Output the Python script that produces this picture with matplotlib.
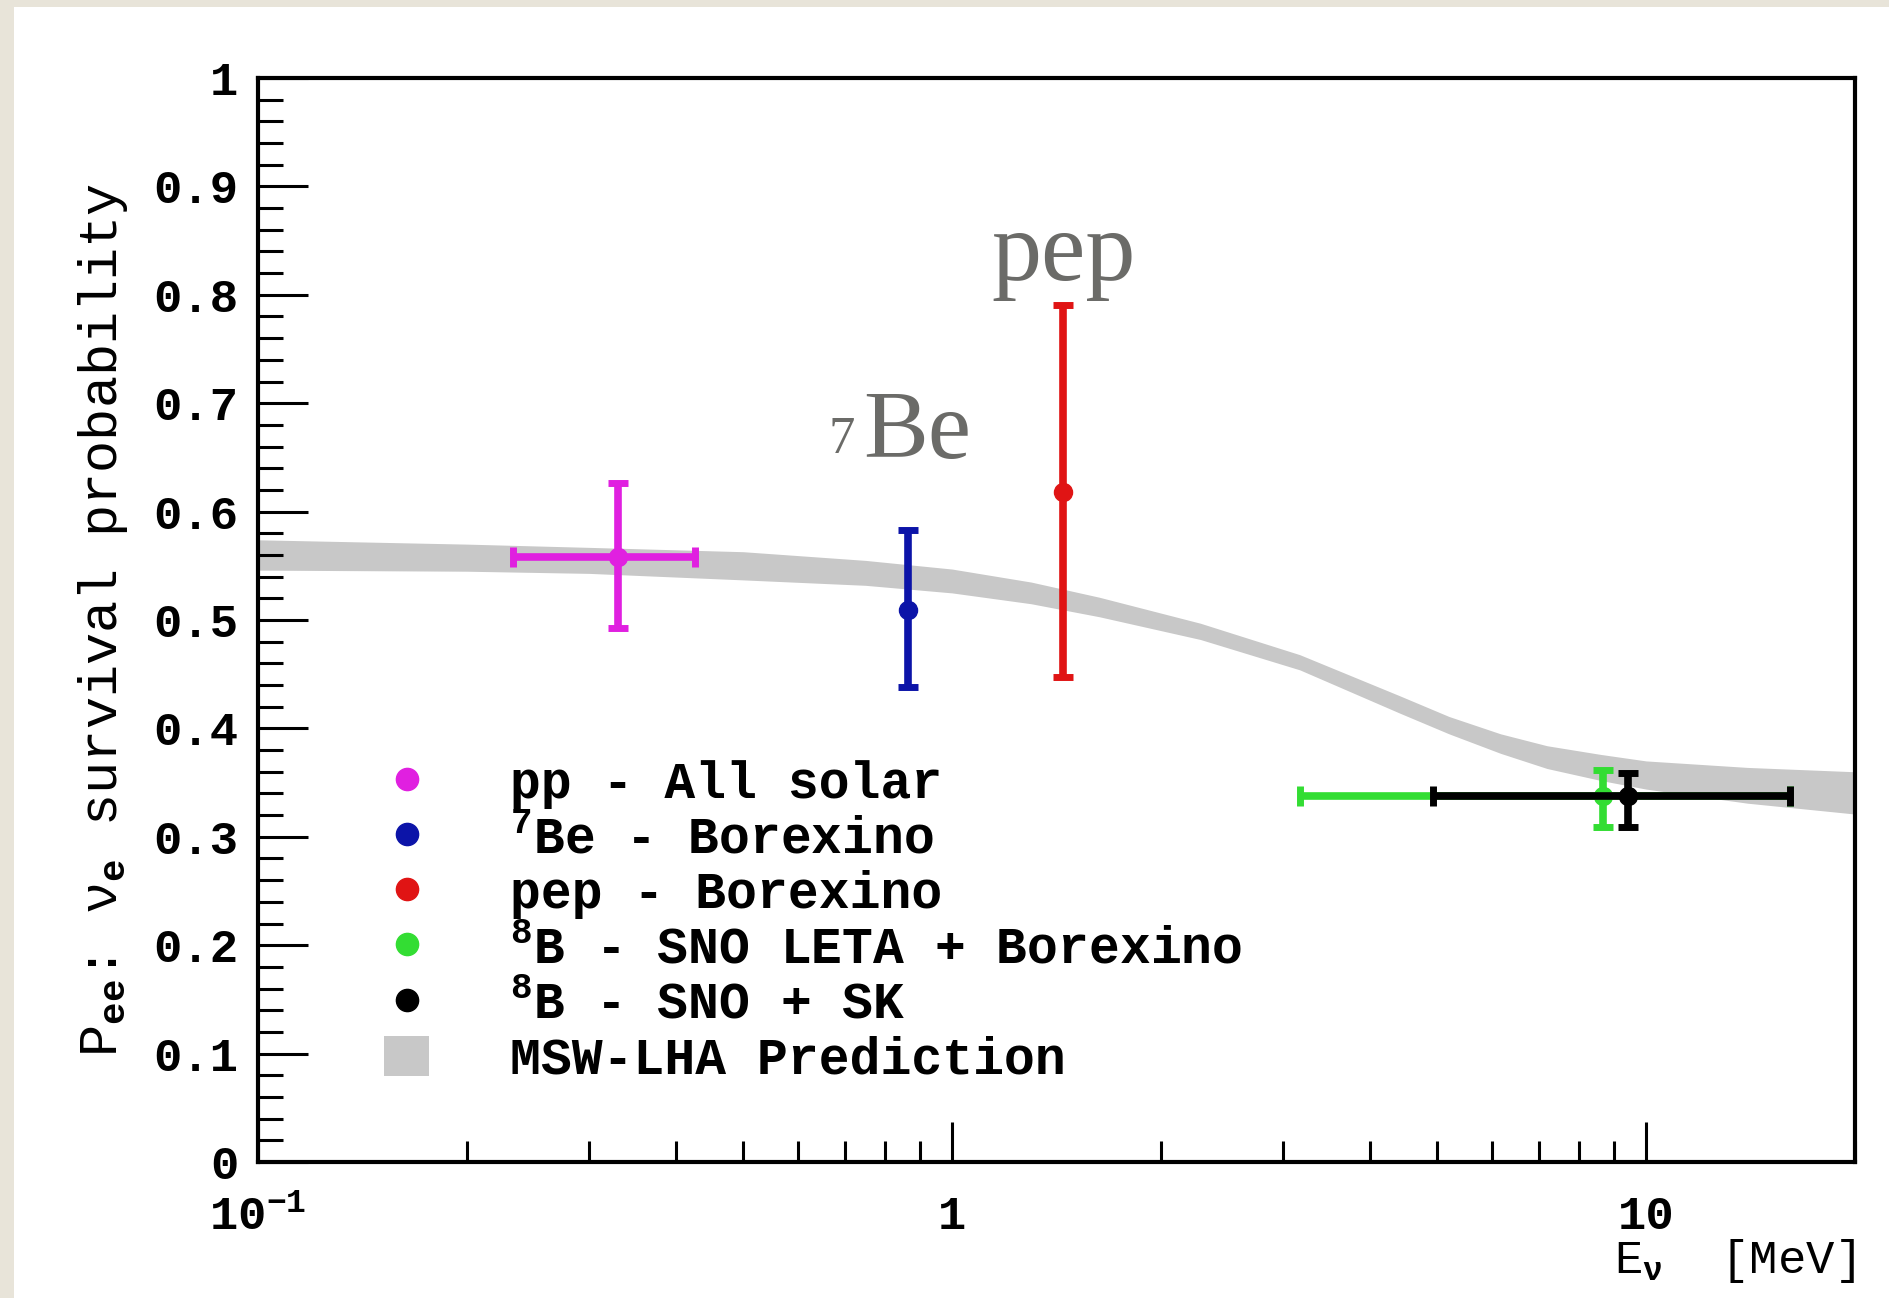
import numpy as np
import matplotlib
matplotlib.use('Agg')
import matplotlib.pyplot as plt
from matplotlib.lines import Line2D
from matplotlib.patches import Patch, Rectangle
from matplotlib.ticker import FixedLocator, MultipleLocator, LogLocator, NullFormatter

plt.rcParams['font.family'] = ['Liberation Mono', 'DejaVu Sans']
plt.rcParams['font.weight'] = 'bold'
plt.rcParams['mathtext.fontset'] = 'custom'
plt.rcParams['mathtext.rm'] = 'Liberation Mono:bold'
plt.rcParams['mathtext.it'] = 'Liberation Mono:bold'
plt.rcParams['mathtext.bf'] = 'Liberation Mono:bold'

# MSW-LHA prediction band (energy in MeV, lower / upper Pee)
band_e = [0.1, 0.2, 0.3, 0.5, 0.75, 1.0, 1.3, 1.63, 2.28, 3.17, 4.42, 5.2, 6.17, 7.2, 8.6, 10.0, 14.0, 20.0]
band_lo = [0.546, 0.545, 0.543, 0.537, 0.532, 0.525, 0.515, 0.503, 0.482, 0.454, 0.414, 0.395, 0.377, 0.363, 0.352, 0.344, 0.331, 0.321]
band_hi = [0.574, 0.570, 0.567, 0.563, 0.555, 0.547, 0.535, 0.521, 0.497, 0.468, 0.430, 0.411, 0.395, 0.384, 0.376, 0.370, 0.364, 0.360]

# measurements
labels = ['pp - All solar', r'$^{7}$Be - Borexino', 'pep - Borexino',
          r'$^{8}$B - SNO LETA + Borexino', r'$^{8}$B - SNO + SK']
colors = ['#e020e0', '#0c14a8', '#e01414', '#33dd33', '#000000']
energy = [0.33, 0.865, 1.445, 8.67, 9.42]
e_lo = [0.233, 0.865, 1.445, 3.17, 4.93]
e_hi = [0.426, 0.865, 1.445, 16.1, 16.1]
pee = [0.558, 0.509, 0.618, 0.338, 0.338]
pee_lo = [0.493, 0.438, 0.447, 0.309, 0.309]
pee_hi = [0.626, 0.583, 0.791, 0.362, 0.359]

W, H = 1890, 1298
fig = plt.figure(figsize=(W / 100, H / 100), dpi=100)
fig.patch.set_facecolor('#e8e4d9')
fig.patches.append(Rectangle((14 / W, 0), 1, 1 - 7 / H, transform=fig.transFigure,
                             facecolor='white', edgecolor='none', zorder=-1))

ax = fig.add_axes([258 / W, 1 - 1162 / H, (1855 - 258) / W, (1162 - 78) / H])
ax.set_xscale('log')
ax.set_xlim(0.1, 20)
ax.set_ylim(0, 1)

ax.fill_between(band_e, band_lo, band_hi, color='#c8c8c8', lw=0, zorder=1)

for i in range(len(energy)):
    yerr = [[pee[i] - pee_lo[i]], [pee_hi[i] - pee[i]]]
    xerr = None
    if e_hi[i] != e_lo[i]:
        xerr = [[energy[i] - e_lo[i]], [e_hi[i] - energy[i]]]
    ax.errorbar([energy[i]], [pee[i]], yerr=yerr, xerr=xerr, fmt='o', color=colors[i],
                ms=13, lw=5.5, capsize=7, capthick=5, zorder=3 + i)

for s in ax.spines.values():
    s.set_linewidth(3)
ax.tick_params(top=False, right=False)
ax.yaxis.set_major_locator(MultipleLocator(0.1))
ax.yaxis.set_minor_locator(MultipleLocator(0.02))
ax.yaxis.set_major_formatter(plt.FuncFormatter(lambda v, p: '0' if v == 0 else ('1' if v == 1 else f'{v:.1f}')))
ax.tick_params(axis='y', which='major', direction='in', length=36, width=2.2, pad=14, labelsize=34)
ax.tick_params(axis='y', which='minor', direction='in', length=18, width=2.2)

ax.xaxis.set_major_locator(FixedLocator([0.1, 1, 10]))
ax.xaxis.set_minor_locator(LogLocator(base=10, subs=np.arange(2, 10)))
ax.xaxis.set_minor_formatter(NullFormatter())
ax.set_xticklabels([r'$10^{-1}$', '1', '10'])
ax.tick_params(axis='x', which='major', direction='in', length=29, width=2.2, pad=24, labelsize=34)
ax.tick_params(axis='x', which='minor', direction='in', length=15, width=2.2)

ax.set_ylabel(r'P$_{ee}$: ν$_e$ survival probability', fontsize=38.5, va='center')
ax.yaxis.set_label_coords(-0.097, 0.5)
ax.set_xlabel(r'E$_\nu$  [MeV]', fontsize=34, ha='right', va='center')
ax.xaxis.set_label_coords(1.0, -0.091)

handles = [Line2D([], [], marker='o', ls='none', color=c, ms=16) for c in colors]
handles.append(Patch(facecolor='#c8c8c8', edgecolor='none'))
ax.legend(handles, labels + ['MSW-LHA Prediction'], loc='upper left',
          bbox_to_anchor=(384 / W, 1 - 760 / H), bbox_transform=fig.transFigure,
          frameon=False, fontsize=37, handlelength=0.88, handleheight=0.83,
          handletextpad=1.57, labelspacing=0.12, borderpad=0, borderaxespad=0)

# flux labels
gray = '#6b6b68'
fig.text(991 / W, 1 - 280 / H, 'pep', family='Liberation Serif', weight='normal',
         size=72, color=gray, ha='left', va='baseline')
fig.text(863 / W, 1 - 458 / H, 'Be', family='Liberation Serif', weight='normal',
         size=70, color=gray, ha='left', va='baseline')
fig.text(855 / W, 1 - 453 / H, '7', family='Liberation Serif', weight='normal',
         size=38, color=gray, ha='right', va='baseline')

fig.savefig('out.png', dpi=100)
